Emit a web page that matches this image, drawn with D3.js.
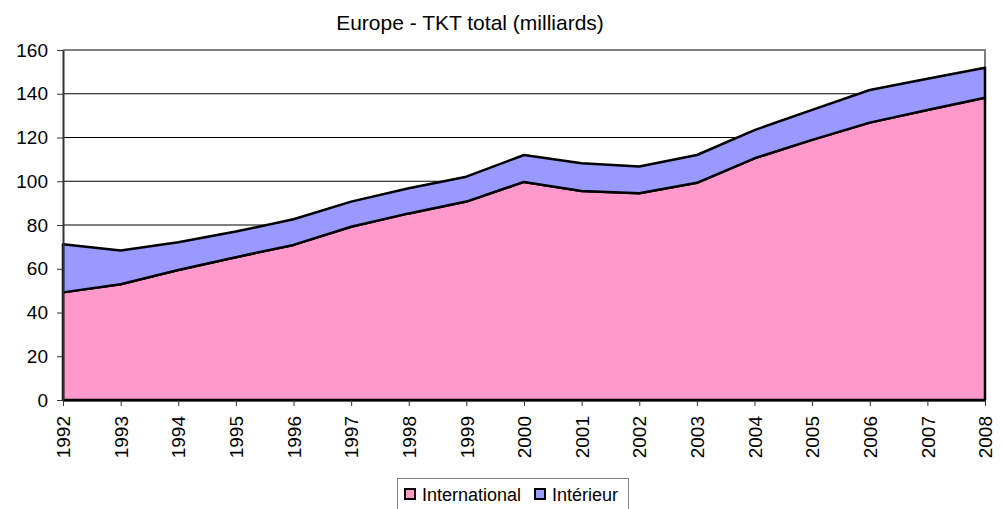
<!DOCTYPE html>
<html>
<head>
<meta charset="utf-8">
<script src="https://cdn.jsdelivr.net/npm/d3@7"></script>
<style>
  body { margin: 0; background: #fff; }
  text { font-family: "Liberation Sans", Arial, sans-serif; fill: #000; }
</style>
</head>
<body>
<div id="chart"></div>
<script>
// data (milliards TKT)
var years = [1992, 1993, 1994, 1995, 1996, 1997, 1998, 1999, 2000, 2001, 2002, 2003, 2004, 2005, 2006, 2007, 2008];
var international = [49.2, 52.9, 59.4, 65.3, 70.9, 79.2, 85.3, 90.7, 99.7, 95.5, 94.5, 99.3, 110.5, 118.9, 126.8, 132.6, 138.2];
var interieur = [22.0, 15.4, 12.7, 11.7, 11.7, 11.5, 11.5, 11.4, 12.3, 12.7, 12.2, 12.7, 12.9, 13.7, 14.9, 14.3, 13.7];
var seriesNames = ["International", "Intérieur"];
var colors = ["#ff99cc", "#9999ff"];
var yTicks = [0, 20, 40, 60, 80, 100, 120, 140, 160];

var W = 1003, H = 509;
var margin = {top: 50, right: 18, bottom: 109, left: 63},
    width = W - margin.left - margin.right,
    height = H - margin.top - margin.bottom;

var rows = years.map(function(y, i) {
  return {year: y, "International": international[i], "Intérieur": interieur[i]};
});

var svg = d3.select("#chart")
  .append("svg")
    .attr("width", W)
    .attr("height", H);

svg.append("text")
  .attr("x", 470)
  .attr("y", 30)
  .attr("text-anchor", "middle")
  .style("font-size", "21px")
  .text("Europe - TKT total (milliards)");

var g = svg.append("g")
  .attr("transform", "translate(" + margin.left + "," + margin.top + ")");

var x = d3.scaleLinear()
  .domain([years[0], years[years.length - 1]])
  .range([0, width]);

var y = d3.scaleLinear()
  .domain([0, 160])
  .range([height, 0]);

// gridlines
g.selectAll(".grid")
  .data(yTicks.filter(function(d) { return d > 0 && d < 160; }))
  .enter()
  .append("line")
    .attr("x1", 0)
    .attr("x2", width)
    .attr("y1", function(d) { return y(d); })
    .attr("y2", function(d) { return y(d); })
    .attr("stroke", "#000")
    .attr("stroke-width", 1);

// gray frame top + right
g.append("path")
  .attr("d", "M0," + y(160) + "H" + width + "V" + height)
  .attr("fill", "none")
  .attr("stroke", "#808080")
  .attr("stroke-width", 2);

// stacked areas
var stack = d3.stack().keys(seriesNames);
var layers = stack(rows);

var area = d3.area()
  .x(function(d) { return x(d.data.year); })
  .y0(function(d) { return y(d[0]); })
  .y1(function(d) { return y(d[1]); });

g.selectAll(".layer")
  .data(layers)
  .enter()
  .append("path")
    .attr("d", area)
    .attr("fill", function(d, i) { return colors[i]; })
    .attr("stroke", "#000")
    .attr("stroke-width", 2.5)
    .attr("stroke-linejoin", "round");

// Y axis
var yAxis = g.append("g")
  .call(d3.axisLeft(y).tickValues(yTicks).tickSize(6).tickPadding(9).tickSizeOuter(0));
yAxis.select(".domain").attr("stroke", "#333").attr("stroke-width", 2);
yAxis.selectAll(".tick line").attr("stroke", "#333");
yAxis.selectAll("text").style("font-size", "19px");

// X axis
var xAxis = g.append("g")
  .attr("transform", "translate(0," + height + ")")
  .call(d3.axisBottom(x).tickValues(years).tickFormat(d3.format("d")).tickSize(6).tickSizeOuter(0));
xAxis.select(".domain").attr("stroke", "#000").attr("stroke-width", 2);
xAxis.selectAll(".tick line").attr("stroke", "#333");
xAxis.selectAll("text")
  .style("font-size", "19px")
  .attr("transform", "rotate(-90)")
  .attr("x", -16)
  .attr("y", 0)
  .attr("dy", "0.35em")
  .style("text-anchor", "end");

// legend
var legend = svg.append("g").attr("transform", "translate(397,478)");
legend.append("rect")
  .attr("x", 0.5)
  .attr("y", 0.5)
  .attr("width", 231)
  .attr("height", 40)
  .attr("fill", "#fff")
  .attr("stroke", "#808080")
  .attr("stroke-width", 1);

var legX = [8, 138];
var item = legend.selectAll(".item")
  .data(seriesNames)
  .enter()
  .append("g")
    .attr("transform", function(d, i) { return "translate(" + legX[i] + ",0)"; });
item.append("rect")
  .attr("x", 0)
  .attr("y", 11)
  .attr("width", 10)
  .attr("height", 10)
  .attr("fill", function(d, i) { return colors[i]; })
  .attr("stroke", "#000")
  .attr("stroke-width", 2);
item.append("text")
  .attr("x", 17)
  .attr("y", 23)
  .style("font-size", "18px")
  .text(function(d) { return d; });
</script>
</body>
</html>
